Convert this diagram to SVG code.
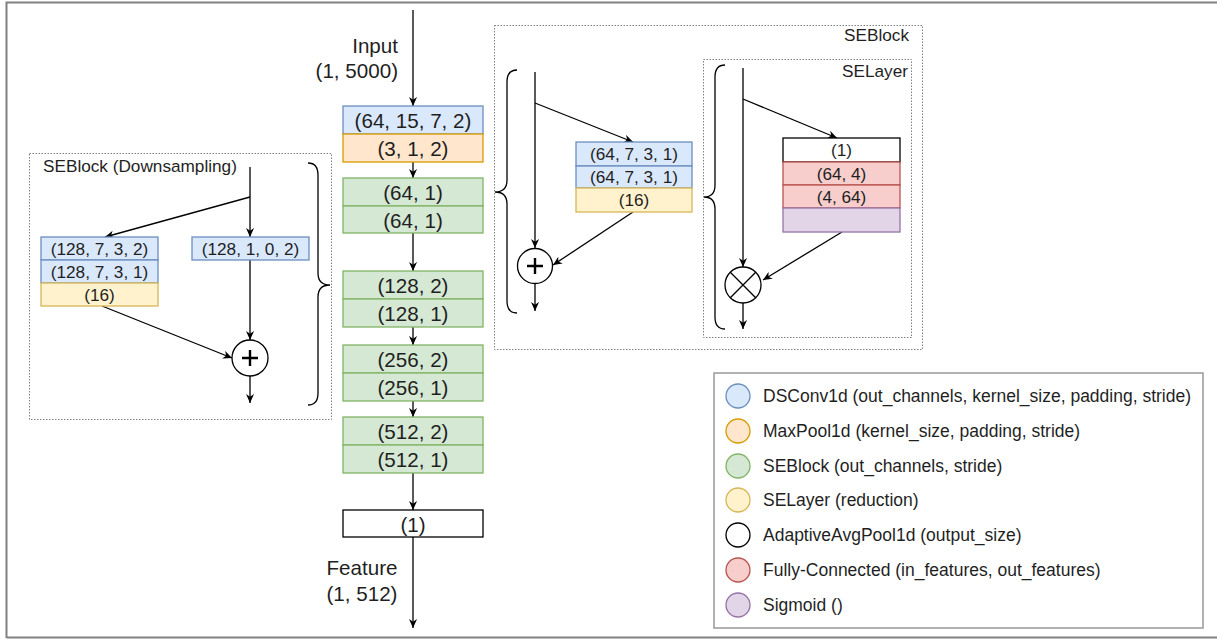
<svg xmlns="http://www.w3.org/2000/svg" width="1217" height="640" viewBox="0 0 1217 640">
<style>
text{font-family:"Liberation Sans",Arial,sans-serif;fill:#1f1f1f}
.t20{font-size:20.6px}
.t17{font-size:17.2px}
.tl{font-size:17.5px}
.c{text-anchor:middle;dominant-baseline:central}
.blue{fill:#dae8fc;stroke:#6c8ebf;stroke-width:1.3}
.orange{fill:#ffe6cc;stroke:#d79b00;stroke-width:1.3}
.green{fill:#d5e8d4;stroke:#82b366;stroke-width:1.3}
.yellow{fill:#fff2cc;stroke:#d6b656;stroke-width:1.3}
.white{fill:#ffffff;stroke:#000000;stroke-width:1.3}
.red{fill:#f8cecc;stroke:#b85450;stroke-width:1.3}
.purple{fill:#e1d5e7;stroke:#9673a6;stroke-width:1.3}
.ln{fill:none;stroke:#000;stroke-width:1.3}
.arr{fill:none;stroke:#000;stroke-width:1.3;marker-end:url(#ah)}
.dot{fill:none;stroke:#808080;stroke-width:1;stroke-dasharray:1.5 1.5}
.brace{fill:none;stroke:#000;stroke-width:1.3}
.sym{fill:none;stroke:#000;stroke-width:2.4}
</style>
<defs>
<marker id="ah" viewBox="0 0 10 10" refX="10" refY="5" markerWidth="9" markerHeight="9" markerUnits="userSpaceOnUse" orient="auto">
<path d="M0,0.5 L10,5 L0,9.5 L3,5 z" fill="#000"/>
</marker>
</defs>
<rect width="1217" height="640" fill="#fff"/>
<g id="frame">
<path d="M6.5,638 L6.5,2.5 L1217,2.5" fill="none" stroke="#808080" stroke-width="2"/>
<path d="M6.5,637.5 L1217,637.5" fill="none" stroke="#808080" stroke-width="2"/>
</g>

<g id="connectors">
<line class="arr" x1="413" y1="10" x2="413" y2="106"/>
<line class="arr" x1="413" y1="162" x2="413" y2="178"/>
<line class="arr" x1="413" y1="233" x2="413" y2="271"/>
<line class="arr" x1="413" y1="327" x2="413" y2="345"/>
<line class="arr" x1="413" y1="401" x2="413" y2="417"/>
<line class="arr" x1="413" y1="473" x2="413" y2="510"/>
<line class="arr" x1="413" y1="537" x2="413" y2="628"/>
<!-- downsampling block -->
<line class="arr" x1="250" y1="167" x2="250" y2="237"/>
<line class="arr" x1="250" y1="197" x2="105" y2="237"/>
<line class="arr" x1="250" y1="260" x2="250" y2="340"/>
<line class="arr" x1="102" y1="306" x2="232" y2="358"/>
<line class="arr" x1="250" y1="376" x2="250" y2="403"/>
<!-- SEBlock -->
<line class="arr" x1="535" y1="72" x2="535" y2="248"/>
<line class="arr" x1="535" y1="103" x2="633" y2="142"/>
<line class="arr" x1="633" y1="212" x2="553" y2="265"/>
<line class="arr" x1="535" y1="283" x2="535" y2="311"/>
<!-- SELayer -->
<line class="arr" x1="743" y1="68" x2="743" y2="267"/>
<line class="arr" x1="743" y1="99" x2="837" y2="138"/>
<line class="arr" x1="842" y1="232" x2="763" y2="280"/>
<line class="arr" x1="743" y1="303" x2="743" y2="329"/>
</g>

<g id="input-label">
<text class="t20" x="398" y="53" text-anchor="end">Input</text>
<text class="t20" x="398" y="78" text-anchor="end">(1, 5000)</text>
</g>
<g id="feature-label">
<text class="t20" x="362" y="575" text-anchor="middle">Feature</text>
<text class="t20" x="362" y="601" text-anchor="middle">(1, 512)</text>
</g>

<g id="main-stem">
<rect class="blue" x="343" y="106" width="140" height="28"/>
<text class="t20 c" x="413" y="120">(64, 15, 7, 2)</text>
<rect class="orange" x="343" y="134" width="140" height="28"/>
<text class="t20 c" x="413" y="148">(3, 1, 2)</text>
</g>
<g id="main-se1">
<rect class="green" x="343" y="178" width="140" height="28"/>
<text class="t20 c" x="413" y="192">(64, 1)</text>
<rect class="green" x="343" y="206" width="140" height="27"/>
<text class="t20 c" x="413" y="220">(64, 1)</text>
</g>
<g id="main-se2">
<rect class="green" x="343" y="271" width="140" height="28"/>
<text class="t20 c" x="413" y="285">(128, 2)</text>
<rect class="green" x="343" y="299" width="140" height="28"/>
<text class="t20 c" x="413" y="313">(128, 1)</text>
</g>
<g id="main-se3">
<rect class="green" x="343" y="345" width="140" height="28"/>
<text class="t20 c" x="413" y="359">(256, 2)</text>
<rect class="green" x="343" y="373" width="140" height="28"/>
<text class="t20 c" x="413" y="387">(256, 1)</text>
</g>
<g id="main-se4">
<rect class="green" x="343" y="417" width="140" height="28"/>
<text class="t20 c" x="413" y="431">(512, 2)</text>
<rect class="green" x="343" y="445" width="140" height="28"/>
<text class="t20 c" x="413" y="459">(512, 1)</text>
</g>
<g id="main-pool">
<rect class="white" x="343" y="510" width="140" height="27"/>
<text class="t20 c" x="413" y="524">(1)</text>
</g>

<g id="seblock-down">
<rect class="dot" x="29.5" y="153.5" width="302" height="266"/>
<text class="t17" x="43" y="172">SEBlock (Downsampling)</text>
<path class="brace" d="M308,163 Q318,163 318,175 L318,273 Q318,285 330,285 Q318,285 318,297 L318,393 Q318,405 308,405"/>
<g id="down-main">
<rect class="blue" x="41" y="237" width="117" height="23"/>
<text class="t17 c" x="99.5" y="248.5">(128, 7, 3, 2)</text>
<rect class="blue" x="41" y="260" width="117" height="23"/>
<text class="t17 c" x="99.5" y="271.5">(128, 7, 3, 1)</text>
<rect class="yellow" x="41" y="283" width="117" height="23"/>
<text class="t17 c" x="99.5" y="294.5">(16)</text>
</g>
<g id="down-shortcut">
<rect class="blue" x="192" y="237" width="117" height="23"/>
<text class="t17 c" x="250.5" y="248.5">(128, 1, 0, 2)</text>
</g>
<g id="down-add">
<circle cx="250" cy="358" r="18" fill="#fff" stroke="#000" stroke-width="1.3"/>
<path class="sym" d="M242,358 H258 M250,350 V366"/>
</g>
</g>

<g id="seblock">
<rect class="dot" x="494.5" y="25.5" width="428" height="324"/>
<text class="t17" x="909" y="41" text-anchor="end">SEBlock</text>
<path class="brace" d="M517,70 Q507,70 507,82 L507,180 Q507,192 495,192 Q507,192 507,204 L507,301 Q507,313 517,313"/>
<g id="se-main">
<rect class="blue" x="576" y="142" width="116" height="24"/>
<text class="t17 c" x="634" y="154">(64, 7, 3, 1)</text>
<rect class="blue" x="576" y="166" width="116" height="22"/>
<text class="t17 c" x="634" y="177">(64, 7, 3, 1)</text>
<rect class="yellow" x="576" y="188" width="116" height="24"/>
<text class="t17 c" x="634" y="200">(16)</text>
</g>
<g id="se-add">
<circle cx="535" cy="266" r="17.5" fill="#fff" stroke="#000" stroke-width="1.3"/>
<path class="sym" d="M527,266 H543 M535,258 V274"/>
</g>
</g>

<g id="selayer">
<rect class="dot" x="703.5" y="59.5" width="208" height="278"/>
<text class="t17" x="908" y="77" text-anchor="end">SELayer</text>
<path class="brace" d="M725,65 Q715,65 715,77 L715,185 Q715,197 704,197 Q715,197 715,209 L715,317 Q715,329 725,329"/>
<g id="sel-main">
<rect class="white" x="783" y="138" width="117" height="24"/>
<text class="t17 c" x="841.5" y="150">(1)</text>
<rect class="red" x="783" y="162" width="117" height="23"/>
<text class="t17 c" x="841.5" y="173.5">(64, 4)</text>
<rect class="red" x="783" y="185" width="117" height="23"/>
<text class="t17 c" x="841.5" y="196.5">(4, 64)</text>
<rect class="purple" x="783" y="208" width="117" height="24"/>
</g>
<g id="sel-mul">
<circle cx="743" cy="285" r="18" fill="#fff" stroke="#000" stroke-width="1.3"/>
<path class="ln" d="M730.3,272.3 L755.7,297.7 M755.7,272.3 L730.3,297.7"/>
</g>
</g>

<g id="legend">
<rect x="714" y="373" width="489" height="255" fill="#fff" stroke="#999" stroke-width="1.5"/>
<circle class="blue" cx="738" cy="396" r="12"/>
<text class="tl" x="763" y="402">DSConv1d (out_channels, kernel_size, padding, stride)</text>
<circle class="orange" cx="738" cy="431" r="12"/>
<text class="tl" x="763" y="437">MaxPool1d (kernel_size, padding, stride)</text>
<circle class="green" cx="738" cy="466" r="12"/>
<text class="tl" x="763" y="472">SEBlock (out_channels, stride)</text>
<circle class="yellow" cx="738" cy="500" r="12"/>
<text class="tl" x="763" y="506">SELayer (reduction)</text>
<circle class="white" cx="738" cy="535" r="12"/>
<text class="tl" x="763" y="541">AdaptiveAvgPool1d (output_size)</text>
<circle class="red" cx="738" cy="570" r="12"/>
<text class="tl" x="763" y="576">Fully-Connected (in_features, out_features)</text>
<circle class="purple" cx="738" cy="605" r="12"/>
<text class="tl" x="763" y="611">Sigmoid ()</text>
</g>
</svg>
